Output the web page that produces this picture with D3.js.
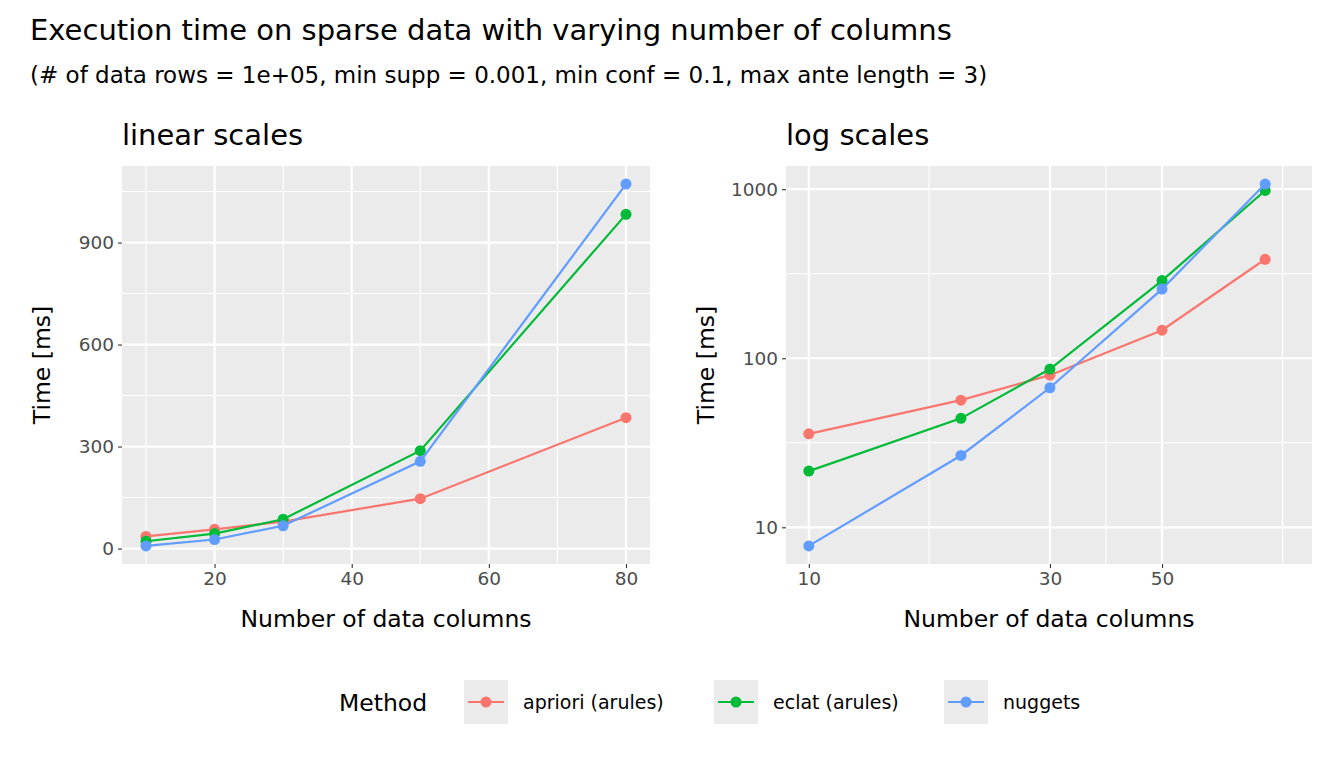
<!DOCTYPE html>
<html>
<head>
<meta charset="utf-8">
<script src="https://cdn.jsdelivr.net/npm/d3@7"></script>
<style>
  body { margin: 0; background: white; }
  text { font-family: "DejaVu Sans", sans-serif; }
</style>
</head>
<body>
<svg id="chart" width="1344" height="768"></svg>
<script>
const columns = [10, 20, 30, 50, 80]
const methods = ['apriori (arules)', 'eclat (arules)', 'nuggets']
const apriori = [35.7, 56.5, 79.4, 146.6, 385]
const eclat = [21.5, 44.1, 86.3, 288, 983]
const nuggets = [7.76, 26.6, 66.9, 256.5, 1072]
const colors = ['#F8766D', '#00BA38', '#619CFF']

const linYTicks = [0, 300, 600, 900]
const linYMinor = [150, 450, 750, 1050]
const linXTicks = [20, 40, 60, 80]
const linXMinor = [10, 30, 50, 70]
const logYTicks = [10, 100, 1000]
const logYMinor = [31.6, 316]
const logXTicks = [10, 30, 50]
const logXMinor = [17.3, 38.7, 86.6]

const series = [apriori, eclat, nuggets].map((vals, i) => ({
  name: methods[i], color: colors[i],
  pts: columns.map((c, j) => ({ x: c, y: vals[j] }))
}))
const allY = [].concat(apriori, eclat, nuggets)

const svg = d3.select('#chart')

function expand (lo, hi) {
  const d = (hi - lo) * 0.05
  return [lo - d, hi + d]
}

function panel (opts) {
  const { x0, x1, y0, y1, xScale, yScale, xTicks, xMinor, yTicks, yMinor, title, yFmt } = opts
  const g = svg.append('g')
  g.append('rect').attr('x', x0).attr('y', y0).attr('width', x1 - x0).attr('height', y1 - y0)
    .attr('fill', '#EBEBEB')
  xMinor.forEach(v => g.append('line').attr('x1', xScale(v)).attr('x2', xScale(v)).attr('y1', y0).attr('y2', y1)
    .attr('stroke', 'white').attr('stroke-width', 1.1))
  yMinor.forEach(v => g.append('line').attr('y1', yScale(v)).attr('y2', yScale(v)).attr('x1', x0).attr('x2', x1)
    .attr('stroke', 'white').attr('stroke-width', 1.1))
  xTicks.forEach(v => g.append('line').attr('x1', xScale(v)).attr('x2', xScale(v)).attr('y1', y0).attr('y2', y1)
    .attr('stroke', 'white').attr('stroke-width', 2.2))
  yTicks.forEach(v => g.append('line').attr('y1', yScale(v)).attr('y2', yScale(v)).attr('x1', x0).attr('x2', x1)
    .attr('stroke', 'white').attr('stroke-width', 2.2))

  // axes
  const xa = g.append('g').attr('transform', `translate(0,${y1})`)
    .call(d3.axisBottom(xScale).tickValues(xTicks).tickSize(4).tickPadding(4).tickFormat(d3.format('d')))
  const ya = g.append('g').attr('transform', `translate(${x0},0)`)
    .call(d3.axisLeft(yScale).tickValues(yTicks).tickSize(4).tickPadding(4).tickFormat(yFmt))
  ;[xa, ya].forEach(a => {
    a.select('.domain').remove()
    a.selectAll('line').attr('stroke', '#333').attr('stroke-width', 1.1)
    a.selectAll('text').attr('fill', '#4D4D4D').style('font-size', '18.5px').style('font-family', 'DejaVu Sans')
  })

  const line = d3.line().x(d => xScale(d.x)).y(d => yScale(d.y))
  series.forEach(s => {
    g.append('path').datum(s.pts).attr('d', line).attr('fill', 'none')
      .attr('stroke', s.color).attr('stroke-width', 2.2)
    g.selectAll(null).data(s.pts).enter().append('circle')
      .attr('cx', d => xScale(d.x)).attr('cy', d => yScale(d.y)).attr('r', 5.5).attr('fill', s.color)
  })

  g.append('text').attr('x', x0).attr('y', y0 - 21).text(title).style('font-size', '29px').attr('fill', 'black')
  g.append('text').attr('x', (x0 + x1) / 2).attr('y', y1 + 63).attr('text-anchor', 'middle')
    .text('Number of data columns').style('font-size', '23.5px')
  g.append('text').attr('transform', `translate(${x0 - 72},${(y0 + y1) / 2}) rotate(-90)`)
    .attr('text-anchor', 'middle').text('Time [ms]').style('font-size', '23.5px')
}

const Y0 = 166, Y1 = 564

panel({
  x0: 122, x1: 650, y0: Y0, y1: Y1,
  xScale: d3.scaleLinear().domain(expand(d3.min(columns), d3.max(columns))).range([122, 650]),
  yScale: d3.scaleLinear().domain(expand(d3.min(allY), d3.max(allY))).range([Y1, Y0]),
  xTicks: linXTicks, xMinor: linXMinor, yTicks: linYTicks, yMinor: linYMinor,
  title: 'linear scales', yFmt: d3.format('d')
})

const lx = expand(Math.log10(d3.min(columns)), Math.log10(d3.max(columns))).map(v => Math.pow(10, v))
const ly = expand(Math.log10(d3.min(allY)), Math.log10(d3.max(allY))).map(v => Math.pow(10, v))
panel({
  x0: 786, x1: 1312, y0: Y0, y1: Y1,
  xScale: d3.scaleLog().domain(lx).range([786, 1288]),
  yScale: d3.scaleLog().domain(ly).range([Y1, Y0]),
  xTicks: logXTicks, xMinor: logXMinor, yTicks: logYTicks, yMinor: logYMinor,
  title: 'log scales', yFmt: d3.format('d')
})

svg.append('text').attr('x', 30).attr('y', 40).text('Execution time on sparse data with varying number of columns')
  .style('font-size', '29px')
svg.append('text').attr('x', 30).attr('y', 83)
  .text('(# of data rows = 1e+05, min supp = 0.001, min conf = 0.1, max ante length = 3)')
  .style('font-size', '23px')

// legend
const legend = svg.append('g')
legend.append('text').attr('x', 339).attr('y', 711).text('Method').style('font-size', '23.5px')
const keyX = [464, 714, 944]
methods.forEach((m, i) => {
  const k = legend.append('g').attr('transform', `translate(${keyX[i]},680)`)
  k.append('rect').attr('width', 44).attr('height', 44).attr('fill', '#EBEBEB')
  k.append('line').attr('x1', 4).attr('x2', 40).attr('y1', 22).attr('y2', 22)
    .attr('stroke', colors[i]).attr('stroke-width', 2.2)
  k.append('circle').attr('cx', 22).attr('cy', 22).attr('r', 5.5).attr('fill', colors[i])
  k.append('text').attr('x', 59).attr('y', 29).text(m).style('font-size', '19px')
})
</script>
</body>
</html>
